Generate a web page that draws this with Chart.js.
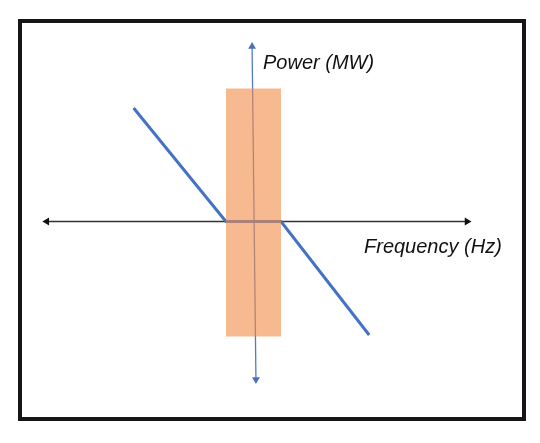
<!DOCTYPE html>
<html lang="en">
<head>
    <meta charset="UTF-8">
    <title>Frequency droop with deadband</title>
    <script src="https://cdn.jsdelivr.net/npm/chart.js"></script>
    <style>
        body { margin: 0; background: #ffffff; font-family: 'Liberation Sans', Arial, sans-serif; }
        .wrap { position: relative; width: 540px; height: 443px; overflow: hidden; }
        .frame { position: absolute; left: 18px; top: 19px; width: 508px; height: 402px; box-sizing: border-box; border: 4px solid #161616; }
        canvas { position: absolute; left: 0; top: 0; }
        .lbl { position: absolute; font-style: italic; font-size: 20px; color: #111; white-space: nowrap; line-height: 1; }
    </style>
</head>
<body>
    <div class="wrap">
        <div class="frame"></div>
        <canvas id="droopChart" width="540" height="443"></canvas>
        <span class="lbl" style="left:263px; top:52px;">Power (MW)</span>
        <span class="lbl" style="left:364px; top:236px;">Frequency (Hz)</span>
    </div>

    <script>
        // droop characteristic (frequency deviation vs power change)
        const droopFreq = [-4.35, -1, 1, 4.2];
        const droopPower = [4.1, 0, 0, -4.1];

        // deadband band
        const bandFreq = [-1, 1];
        const bandTop = 4.8;
        const bandBottom = -4.15;

        // axis extents
        const freqAxisX = [-7.5, 7.75];
        const freqAxisY = [0, 0];
        const powerAxisX = [-0.05, 0.09];
        const powerAxisY = [6.32, -5.71];

        const toPoints = (xs, ys) => xs.map((x, i) => ({ x: x, y: ys[i] }));

        new Chart(document.getElementById('droopChart').getContext('2d'), {
            type: 'scatter',
            data: {
                datasets: [
                    {
                        label: 'Deadband',
                        data: toPoints(bandFreq, bandFreq.map(() => bandTop)),
                        showLine: true,
                        borderWidth: 0,
                        borderColor: 'rgba(0,0,0,0)',
                        pointRadius: 0,
                        fill: { value: bandBottom },
                        backgroundColor: 'rgba(242, 140, 70, 0.6)',
                        order: 0
                    },
                    {
                        label: 'Droop',
                        data: toPoints(droopFreq, droopPower),
                        showLine: true,
                        borderColor: '#4472c4',
                        borderWidth: 3,
                        pointRadius: 0,
                        fill: false,
                        order: 1
                    },
                    {
                        label: 'Power axis',
                        data: toPoints(powerAxisX, powerAxisY),
                        showLine: true,
                        borderColor: '#5479c4',
                        borderWidth: 1.3,
                        pointStyle: 'triangle',
                        pointRadius: 4.5,
                        pointRotation: [0, 180],
                        pointBackgroundColor: '#4a70bd',
                        pointBorderWidth: 0,
                        fill: false,
                        order: 2
                    },
                    {
                        label: 'Frequency axis',
                        data: toPoints(freqAxisX, freqAxisY),
                        showLine: true,
                        borderColor: '#333333',
                        borderWidth: 1.4,
                        pointStyle: 'triangle',
                        pointRadius: 4.5,
                        pointRotation: [-90, 90],
                        pointBackgroundColor: '#111111',
                        pointBorderWidth: 0,
                        fill: false,
                        order: 3
                    }
                ]
            },
            options: {
                responsive: false,
                animation: false,
                layout: { padding: 0, autoPadding: false },
                scales: {
                    x: { type: 'linear', min: -9.2, max: 10.4, display: false },
                    y: { type: 'linear', min: -8, max: 8, display: false }
                },
                plugins: {
                    legend: { display: false },
                    tooltip: { enabled: false }
                }
            }
        });
    </script>
</body>
</html>
